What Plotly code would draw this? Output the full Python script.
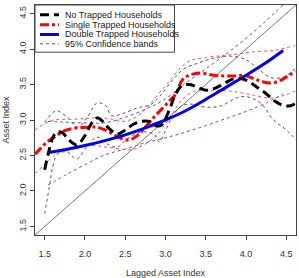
import plotly.graph_objects as go

# ---------------- data ----------------
x_none = [1.50, 1.55, 1.60, 1.65, 1.72, 1.80, 1.90, 2.00, 2.08, 2.15, 2.22, 2.30, 2.40, 2.50, 2.60,
          2.70, 2.80, 2.88, 2.95, 3.05, 3.12, 3.20, 3.30, 3.40, 3.50, 3.62, 3.75, 3.85, 3.95, 4.05,
          4.15, 4.25, 4.35, 4.45, 4.55, 4.62]
y_none = [2.30, 2.55, 2.75, 2.83, 2.82, 2.72, 2.65, 2.78, 2.95, 3.03, 2.98, 2.88, 2.80, 2.86, 2.94,
          2.98, 2.98, 2.92, 2.93, 3.15, 3.35, 3.48, 3.50, 3.46, 3.42, 3.45, 3.53, 3.58, 3.58, 3.53,
          3.45, 3.37, 3.27, 3.21, 3.20, 3.24]

x_none_up = [1.50, 1.58, 1.65, 1.78, 1.91, 2.03, 2.15, 2.26, 2.33, 2.49, 2.65, 2.82, 2.94, 3.10,
             3.23, 3.40, 3.60, 3.80, 4.00, 4.15, 4.30, 4.45, 4.55, 4.62]
y_none_up = [2.97, 3.08, 3.13, 3.04, 2.90, 3.04, 3.24, 3.20, 3.06, 3.10, 3.17, 3.22, 3.35, 3.58,
             3.72, 3.80, 3.87, 3.90, 3.85, 3.72, 3.60, 3.60, 3.66, 3.75]

x_none_lo = [1.50, 1.56, 1.60, 1.66, 1.78, 1.90, 2.02, 2.15, 2.28, 2.40, 2.52, 2.70, 2.86, 2.92,
             3.00, 3.08, 3.17, 3.25, 3.35, 3.50, 3.69, 3.88, 4.00, 4.18, 4.34, 4.50, 4.62]
y_none_lo = [1.68, 2.07, 2.34, 2.52, 2.55, 2.45, 2.62, 2.76, 2.66, 2.62, 2.73, 2.83, 2.80, 2.69,
             2.85, 3.04, 3.17, 3.22, 3.22, 3.18, 3.20, 3.31, 3.33, 3.24, 3.00, 2.86, 2.72]

x_single = [1.38, 1.45, 1.52, 1.62, 1.75, 1.90, 2.05, 2.15, 2.25, 2.35, 2.45, 2.55, 2.65, 2.75,
            2.85, 2.95, 3.05, 3.13, 3.20, 3.27, 3.35, 3.45, 3.60, 3.75, 3.88, 3.97, 4.08, 4.18,
            4.30, 4.43, 4.52, 4.61]
y_single = [2.52, 2.60, 2.68, 2.76, 2.85, 2.89, 2.90, 2.90, 2.86, 2.80, 2.74, 2.72, 2.78, 2.90,
            3.03, 3.15, 3.27, 3.37, 3.55, 3.62, 3.65, 3.66, 3.63, 3.62, 3.62, 3.63, 3.59, 3.55,
            3.52, 3.56, 3.62, 3.69]

x_single_up = [1.38, 1.50, 1.62, 1.87, 2.12, 2.30, 2.45, 2.60, 2.75, 2.90, 3.05, 3.20, 3.31,
               3.51, 3.72, 3.90, 4.09, 4.34, 4.61]
y_single_up = [2.86, 2.95, 3.00, 3.01, 3.03, 3.02, 2.98, 3.02, 3.15, 3.35, 3.55, 3.75, 3.84,
               3.88, 3.91, 3.93, 3.96, 3.98, 4.05]

x_single_lo = [1.38, 1.50, 1.62, 1.75, 1.87, 2.12, 2.25, 2.40, 2.57, 2.73, 2.90, 3.07, 3.20,
               3.35, 3.60, 3.85, 4.09, 4.34, 4.61]
y_single_lo = [2.25, 2.37, 2.50, 2.58, 2.62, 2.64, 2.62, 2.60, 2.58, 2.65, 2.80, 3.06, 3.28,
               3.40, 3.42, 3.40, 3.35, 3.31, 3.41]

x_double = [1.54, 1.75, 2.00, 2.25, 2.50, 2.75, 3.00, 3.25, 3.50, 3.75, 4.00, 4.25, 4.46]
y_double = [2.54, 2.58, 2.64, 2.71, 2.79, 2.89, 3.00, 3.13, 3.29, 3.46, 3.63, 3.81, 3.98]
y_double_up = [2.98, 2.97, 2.96, 2.96, 3.04, 3.15, 3.30, 3.52, 3.72, 3.93, 4.15, 4.40, 4.62]
y_double_lo = [2.08, 2.22, 2.37, 2.51, 2.59, 2.68, 2.75, 2.83, 2.92, 3.02, 3.12, 3.24, 3.37]

diag_x = [1.3, 4.7]          # 45-degree reference line y = x

x_ticks = [1.5, 2.0, 2.5, 3.0, 3.5, 4.0, 4.5]
y_ticks = [1.5, 2.0, 2.5, 3.0, 3.5, 4.0, 4.5]

legend_labels = ["No Trapped Households", "Single Trapped Households",
                 "Double Trapped Households", "95% Confidence bands"]

# ---------------- styles ----------------
FONT = "Liberation Sans, Arial, Helvetica, sans-serif"
BLACK_DASH = "9px,5px"
RED_DASH = "9px,3px,3px,3px"
BAND_DASH = "3px,3px"

fig = go.Figure()

def add(x, y, color, width, dash):
    fig.add_trace(go.Scatter(x=x, y=y, mode="lines", showlegend=False, hoverinfo="skip",
                             line=dict(color=color, width=width, dash=dash,
                                       shape="spline", smoothing=1.0)))

fig.add_trace(go.Scatter(x=diag_x, y=diag_x, mode="lines", showlegend=False,
                         line=dict(color="#777777", width=1)))

add(x_none_up, y_none_up, "#555555", 1, BAND_DASH)
add(x_none_lo, y_none_lo, "#555555", 1, BAND_DASH)
add(x_single_up, y_single_up, "#FF5050", 1, BAND_DASH)
add(x_single_lo, y_single_lo, "#FF5050", 1, BAND_DASH)
add(x_double, y_double_up, "#5050FF", 1, BAND_DASH)
add(x_double, y_double_lo, "#5050FF", 1, BAND_DASH)
add(x_single, y_single, "#FF0000", 3, RED_DASH)
add(x_double, y_double, "#0000FF", 3, "solid")
add(x_none, y_none, "#000000", 3, BLACK_DASH)

# ---------------- layout ----------------
W, H = 299, 278
ML, MR, MT, MB = 35, 2, 5, 39
PW, PH = W - ML - MR, H - MT - MB

def px2paper(px, py):
    return (px - ML) / PW, (H - MB - py) / PH

# custom legend (R-style compact box)
shapes = []
annotations = []
bx0, by0 = px2paper(35, 53)
bx1, by1 = px2paper(175, 5)
shapes.append(dict(type="rect", xref="paper", yref="paper", x0=bx0, y0=by0, x1=bx1, y1=by1,
                   line=dict(color="#444444", width=1), fillcolor="white", layer="above"))
leg_styles = [("#000000", 3, BLACK_DASH), ("#FF0000", 3, RED_DASH),
              ("#0000FF", 3, "solid"), ("#555555", 1, BAND_DASH)]
row_y = [15, 25, 35, 44.5]
for (col, wd, ds), lbl, ry in zip(leg_styles, legend_labels, row_y):
    lx0, ly = px2paper(40, ry)
    lx1, _ = px2paper(59, ry)
    shapes.append(dict(type="line", xref="paper", yref="paper", x0=lx0, x1=lx1, y0=ly, y1=ly,
                       line=dict(color=col, width=wd, dash=ds), layer="above"))
    tx, _ = px2paper(63, ry)
    annotations.append(dict(xref="paper", yref="paper", x=tx, y=ly, text=lbl, showarrow=False,
                            xanchor="left", yanchor="middle",
                            font=dict(family=FONT, size=9, color="#222222")))

axis_common = dict(showgrid=False, zeroline=False, showline=True, linecolor="#444444",
                   linewidth=1, mirror=True, ticks="outside", ticklen=4, tickcolor="#444444",
                   tickfont=dict(family=FONT, size=9, color="#333333"))

fig.update_layout(
    width=W, height=H, margin=dict(l=ML, r=MR, t=MT, b=MB),
    paper_bgcolor="white", plot_bgcolor="white",
    shapes=shapes, annotations=annotations, showlegend=False,
    xaxis=dict(range=[1.38, 4.62], tickvals=x_ticks, ticktext=[f"{v:.1f}" for v in x_ticks],
               ticklabelstandoff=6,
               title=dict(text="Lagged Asset Index", standoff=11,
                          font=dict(family=FONT, size=9, color="#333333")),
               **axis_common),
    yaxis=dict(range=[1.38, 4.62], tickvals=y_ticks, ticktext=[f"{v:.1f}" for v in y_ticks],
               tickangle=-90, ticklabelstandoff=0,
               title=dict(text="Asset Index", standoff=7,
                          font=dict(family=FONT, size=9, color="#333333")),
               **axis_common),
)

fig.write_html("out.html")
